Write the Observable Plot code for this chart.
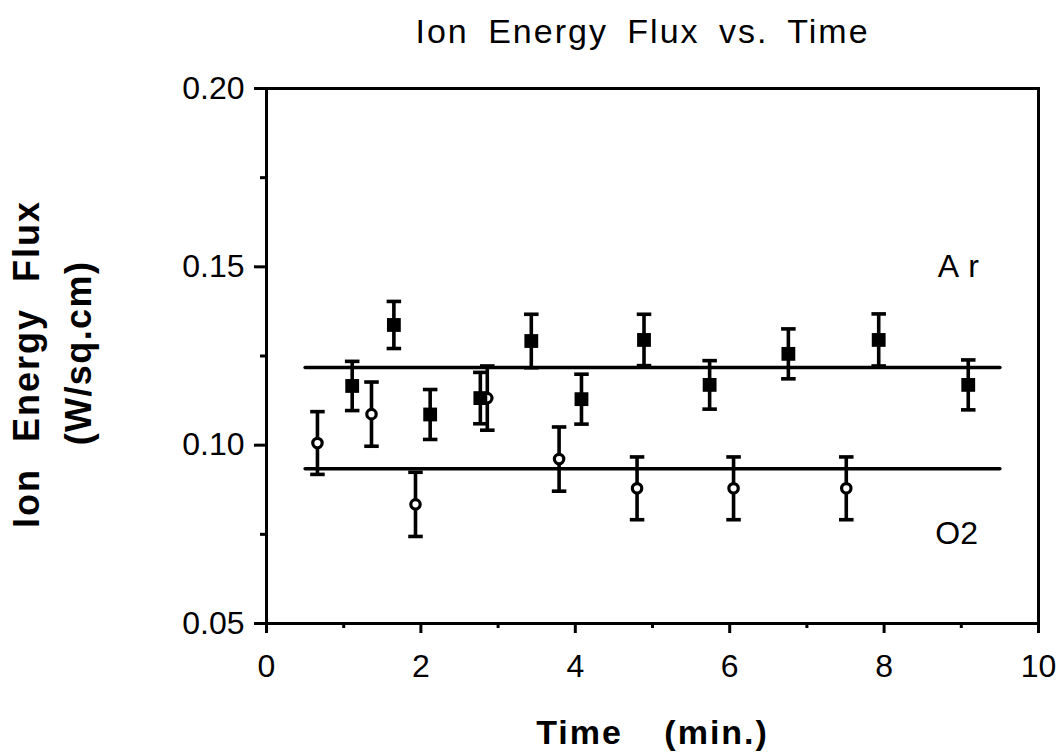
<!DOCTYPE html>
<html><head><meta charset="utf-8">
<script src="https://cdn.jsdelivr.net/npm/d3@7"></script>
<script src="https://cdn.jsdelivr.net/npm/@observablehq/plot@0.6"></script>
<style>
html,body{margin:0;padding:0;background:#fff;}
</style></head><body><div id="chart"></div>
<script>
// ---- data ----
const titleText = "Ion Energy Flux vs. Time";
const xLabel = "Time (min.)";
const yLabel1 = "Ion Energy Flux";
const yLabel2 = "(W/sq.cm)";

const xMajor = [0, 2, 4, 6, 8, 10];
const xMinor = [1, 3, 5, 7, 9];
const yMajor = [0.05, 0.10, 0.15, 0.20];
const yMinor = [0.075, 0.125, 0.175];

// Ar (filled squares)
const arTime = [1.11, 1.65, 2.12, 2.77, 3.43, 4.08, 4.89, 5.74, 6.76, 7.93, 9.09];
const arFlux = [0.1166, 0.1337, 0.1086, 0.1132, 0.1292, 0.1129, 0.1295, 0.1169, 0.1256, 0.1295, 0.1169];
const arErr  = [0.0069, 0.0066, 0.0070, 0.0072, 0.0075, 0.0070, 0.0072, 0.0068, 0.0070, 0.0073, 0.0070];

// O2 (open circles)
const o2Time = [0.66, 1.36, 1.93, 2.86, 3.79, 4.80, 6.05, 7.51];
const o2Flux = [0.1006, 0.1087, 0.0834, 0.1132, 0.0961, 0.0879, 0.0879, 0.0879];
const o2Err  = [0.0088, 0.0090, 0.0090, 0.0090, 0.0090, 0.0088, 0.0088, 0.0088];

// horizontal mean lines
const fitTime = [0.5, 9.5];
const arFit = [0.1218, 0.1218];
const o2Fit = [0.0934, 0.0934];

// series labels
const seriesNames = ["Ar", "O2"];
const labelTime = [9.02, 8.94];
const labelFlux = [0.150, 0.0753];

// ---- tables ----
const ar = arTime.map((t, i) => ({t, v: arFlux[i], lo: arFlux[i] - arErr[i], hi: arFlux[i] + arErr[i]}));
const o2 = o2Time.map((t, i) => ({t, v: o2Flux[i], lo: o2Flux[i] - o2Err[i], hi: o2Flux[i] + o2Err[i]}));
const arLine = fitTime.map((t, i) => ({t, v: arFit[i]}));
const o2Line = fitTime.map((t, i) => ({t, v: o2Fit[i]}));
const labels = seriesNames.map((s, i) => ({s, t: labelTime[i], v: labelFlux[i]}));

const capSymbol = {
  draw(ctx, size) {
    const w = Math.sqrt(size);
    ctx.moveTo(-w / 2, 0);
    ctx.lineTo(w / 2, 0);
  }
};

const FONT = "Liberation Sans, Arial, Helvetica, sans-serif";

function errorBars(data) {
  return [
    Plot.ruleX(data, {x: "t", y1: "lo", y2: "hi", stroke: "black", strokeWidth: 3.6}),
    Plot.dot(data, {x: "t", y: "hi", symbol: capSymbol, r: 8.2, fill: "none", stroke: "black", strokeWidth: 3.6}),
    Plot.dot(data, {x: "t", y: "lo", symbol: capSymbol, r: 8.2, fill: "none", stroke: "black", strokeWidth: 3.6})
  ];
}

const svg = Plot.plot({
  width: 1061,
  height: 753,
  marginTop: 88,
  marginRight: 23,
  marginBottom: 130,
  marginLeft: 266,
  style: {fontFamily: FONT, background: "#fff", color: "black"},
  x: {domain: [0, 10]},
  y: {domain: [0.05, 0.20]},
  marks: [
    Plot.line(arLine, {x: "t", y: "v", stroke: "black", strokeWidth: 3.5}),
    Plot.line(o2Line, {x: "t", y: "v", stroke: "black", strokeWidth: 3.5}),
    ...errorBars(o2),
    ...errorBars(ar),
    Plot.dot(o2, {x: "t", y: "v", r: 4.7, fill: "white", stroke: "black", strokeWidth: 3.2}),
    Plot.dot(ar, {x: "t", y: "v", symbol: "square", r: 7.8, fill: "black", stroke: "none"}),
    Plot.text(labels, {x: "t", y: "v", text: "s", fontSize: 32, fill: "black", textAnchor: "middle"}),
    Plot.axisY({ticks: yMajor, tickFormat: d3.format(".2f"), tickSize: 12, tickPadding: 10, fontSize: 32, strokeWidth: 3, label: null, fill: "black"}),
    Plot.axisY({ticks: yMinor, tickFormat: () => "", tickSize: 6, strokeWidth: 3, label: null}),
    Plot.axisX({ticks: xMajor, tickFormat: d => String(d), tickSize: 10, tickPadding: 21, fontSize: 32, strokeWidth: 3, label: null, fill: "black"}),
    Plot.axisX({ticks: xMinor, tickFormat: () => "", tickSize: 5, strokeWidth: 3, label: null}),
    Plot.frame({stroke: "black", strokeWidth: 3}),
    Plot.text([titleText], {frameAnchor: "top", textAnchor: "middle", lineAnchor: "bottom", dx: -10, dy: -46, fontSize: 34, fill: "black"}),
    Plot.text([xLabel], {frameAnchor: "bottom", textAnchor: "middle", lineAnchor: "bottom", dx: 0, dy: 120, fontSize: 34, fontWeight: "bold", fill: "black"}),
    Plot.text([yLabel1], {frameAnchor: "left", textAnchor: "middle", lineAnchor: "bottom", rotate: -90, dx: -228, dy: 8, fontSize: 36, fontWeight: "bold", fill: "black"}),
    Plot.text([yLabel2], {frameAnchor: "left", textAnchor: "middle", lineAnchor: "bottom", rotate: -90, dx: -176, dy: -3, fontSize: 36, fontWeight: "bold", fill: "black"})
  ]
});

const sel = d3.select(svg);
sel.selectAll("text").each(function() {
  const t = this.textContent;
  const s = d3.select(this);
  if (t === titleText) s.style("letter-spacing", "2px").style("word-spacing", "8px");
  else if (t === xLabel) s.style("letter-spacing", "2px").style("word-spacing", "30px");
  else if (t === yLabel1) s.style("letter-spacing", "2px").style("word-spacing", "14px");
  else if (t === yLabel2) s.style("letter-spacing", "1.4px");
  else if (t === "Ar") s.style("letter-spacing", "9px");
});
document.getElementById("chart").appendChild(svg);
</script>
</body></html>
